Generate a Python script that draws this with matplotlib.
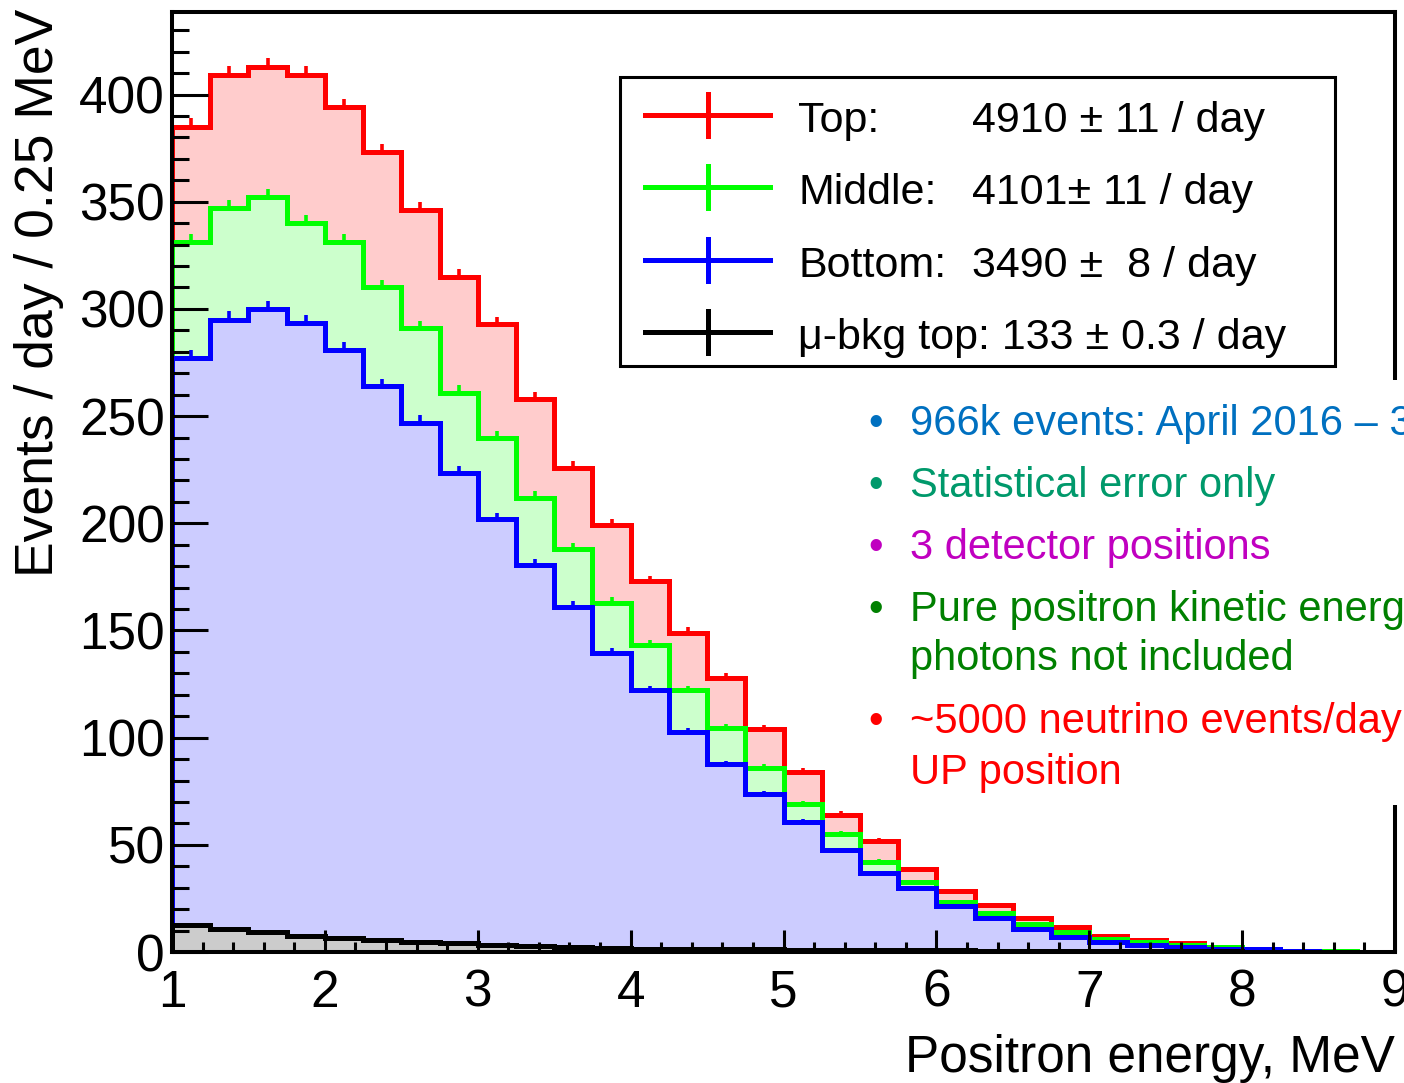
import numpy as np
import matplotlib.pyplot as plt
from matplotlib.patches import Rectangle
from matplotlib.lines import Line2D
from matplotlib.ticker import MultipleLocator

plt.rcParams['font.family'] = ['Liberation Sans', 'DejaVu Sans']

# Positron spectra, events / day per 0.25 MeV bin between 1 and 9 MeV
bin_edges = np.linspace(1.0, 9.0, 33)

top_rate = [385, 409, 413, 409, 394, 373, 346, 315, 293, 258, 226, 199,
            173, 149, 128, 104, 84, 64, 52, 38.5, 28.5, 22, 16, 11.5,
            7.5, 5.5, 4.0, 2.4, 1.4, 0.6, 0.3, 0.2]
middle_rate = [331, 347, 352, 340, 331, 310, 291, 261, 240, 212, 188, 163,
               143, 122, 104.5, 86, 69, 55, 42, 32.5, 23.5, 18, 13, 9.2,
               5.9, 4.5, 3.3, 2.2, 1.4, 0.5, 0.3, 0.2]
bottom_rate = [277, 295, 300, 293.5, 281, 264, 247, 223.5, 202, 180.5, 161, 139.5,
               122, 102.5, 87.5, 73.5, 60.5, 47.5, 37, 30, 21.5, 16, 10.7, 6.8,
               4.8, 3.3, 2.2, 1.4, 1.4, 0.3, 0.2, 0.1]
bkg_rate = [12.5, 10.8, 9.3, 7.6, 6.4, 5.6, 4.8, 4.0, 3.4, 3.0, 2.2, 1.8,
            1.6, 1.5, 1.4, 1.3, 1.0, 1.0, 0.9, 0.9, 0.8, 0.5, 0.5, 0.5,
            0.4, 0.4, 0.3, 0.3, 0.2, 0.2, 0.2, 0.1]

# statistical errors per bin
top_err = [4.0, 4.2, 4.2, 4.2, 4.0, 3.9, 3.7, 3.5, 3.4, 3.2, 3.0, 2.8,
           2.6, 2.4, 2.2, 2.0, 1.8, 1.6, 1.4, 1.2, 1.0, 0.9, 0.8, 0.6,
           0.5, 0.4, 0.3, 0.3, 0.2, 0.1, 0.1, 0.1]
middle_err = [4.0, 4.0, 4.0, 4.0, 3.8, 3.7, 3.5, 3.3, 3.2, 3.0, 2.8, 2.6,
              2.4, 2.2, 2.0, 1.8, 1.6, 1.4, 1.2, 1.0, 0.9, 0.8, 0.7, 0.6,
              0.5, 0.4, 0.3, 0.3, 0.2, 0.1, 0.1, 0.1]
bottom_err = [3.6, 3.8, 3.8, 3.8, 3.6, 3.5, 3.3, 3.1, 3.0, 2.8, 2.6, 2.4,
              2.2, 2.0, 1.8, 1.6, 1.4, 1.2, 1.0, 0.9, 0.8, 0.7, 0.6, 0.5,
              0.4, 0.3, 0.3, 0.2, 0.2, 0.1, 0.1, 0.1]

legend_names = ["Top:", "Middle:", "Bottom:", "\u03bc-bkg top: 133 \u00b1 0.3 / day"]
legend_values = ["4910 \u00b1 11 / day", "4101\u00b1 11 / day", "3490 \u00b1  8 / day", ""]

notes = ["966k events: April 2016 \u2013 30 September 2017",
         "Statistical error only",
         "3 detector positions",
         "Pure positron kinetic energy, annihilation",
         "photons not included",
         "~5000 neutrino events/day in the",
         "UP position"]
note_colors = ["#0070c0", "#00996b", "#c000c0", "#008000", "#008000", "#ff0000", "#ff0000"]
note_bullet = [True, True, True, True, False, True, False]

W, H = 1404, 1083


def px(x, y):
    """pixel position measured from the top-left corner -> figure fraction"""
    return x / W, 1 - y / H


fig = plt.figure(figsize=(W / 100, H / 100), dpi=100)
ax = fig.add_axes([172 / W, 131 / H, 1223 / W, 940 / H])
ax.set_axisbelow(False)

centers = 0.5 * (bin_edges[:-1] + bin_edges[1:])
series = [
    (top_rate, top_err, "#ff0000", "#ffcccc"),
    (middle_rate, middle_err, "#00ff00", "#ccffcc"),
    (bottom_rate, bottom_err, "#0000ff", "#ccccff"),
    (bkg_rate, None, "#000000", "#cccccc"),
]

# filled histograms drawn one over another, top position first
for k, (vals, err, line_col, fill_col) in enumerate(series):
    z = 2 + 0.1 * k
    ax.stairs(vals, bin_edges, fill=True, color=fill_col, zorder=z)
    ax.stairs(vals, bin_edges, color=line_col, lw=3.6, zorder=z + 0.01)
    if err is not None:
        # only the upper half of the bar shows above the outline
        ax.errorbar(centers, vals, yerr=[np.zeros(len(err)), err], fmt="none",
                    ecolor=line_col, elinewidth=2.6, capsize=0, zorder=z + 0.02)

ax.set_xlim(1, 9)
ax.set_ylim(0, 438.5)
ax.xaxis.set_major_locator(MultipleLocator(1))
ax.xaxis.set_minor_locator(MultipleLocator(0.2))
ax.yaxis.set_major_locator(MultipleLocator(50))
ax.yaxis.set_minor_locator(MultipleLocator(10))

ax.tick_params(axis="both", which="both", direction="in", top=False, right=False,
               width=2.2, color="black")
ax.tick_params(axis="y", which="major", length=26, pad=5, labelsize=37)
ax.tick_params(axis="y", which="minor", length=12)
ax.tick_params(axis="x", which="major", length=16, pad=12, labelsize=37)
ax.tick_params(axis="x", which="minor", length=7.5)
for sp in ax.spines.values():
    sp.set_linewidth(2.9)
    sp.set_zorder(3)

# axis titles
fig.text(*px(1395, 1072), "Positron energy, MeV", ha="right", va="baseline", fontsize=37)
fig.text(*px(39, 9), "Events / day / 0.25 MeV", rotation=90, ha="center", va="top",
         fontsize=38.5)

# legend box
x0, y0 = px(620, 366)
fig.add_artist(Rectangle((x0, y0), 715 / W, 289 / H, transform=fig.transFigure,
                         facecolor="white", edgecolor="black", lw=2.2, zorder=5))
row_y = [115, 187, 260, 332]
for k, y in enumerate(row_y):
    col = series[k][2]
    xa, ya = px(645, y)
    xb, _ = px(770, y)
    fig.add_artist(Line2D([xa, xb], [ya, ya], transform=fig.transFigure,
                          color=col, lw=3.6, zorder=6))
    xm, yt = px(708, y - 21)
    _, yb = px(708, y + 21)
    fig.add_artist(Line2D([xm, xm], [yb, yt], transform=fig.transFigure,
                          color=col, lw=3.6, zorder=6))
    fig.text(*px(798, y + 17), legend_names[k], ha="left", va="baseline",
             fontsize=31, zorder=7)
    if legend_values[k]:
        fig.text(*px(972, y + 17), legend_values[k], ha="left", va="baseline",
                 fontsize=31, zorder=7)

# notes on white background
bx, by = px(850, 805)
fig.add_artist(Rectangle((bx, by), (W - 850 + 10) / W, 425 / H, transform=fig.transFigure,
                         facecolor="white", edgecolor="none", zorder=5))
note_base = [435, 497, 559, 621, 670, 733, 784]
for txt, col, bul, yb_ in zip(notes, note_colors, note_bullet, note_base):
    if bul:
        fig.text(*px(868, yb_), "\u2022", ha="left", va="baseline", fontsize=30,
                 color=col, zorder=7)
    fig.text(*px(910, yb_), txt, ha="left", va="baseline", fontsize=30,
             color=col, zorder=7)

fig.savefig("out.png", dpi=100)
